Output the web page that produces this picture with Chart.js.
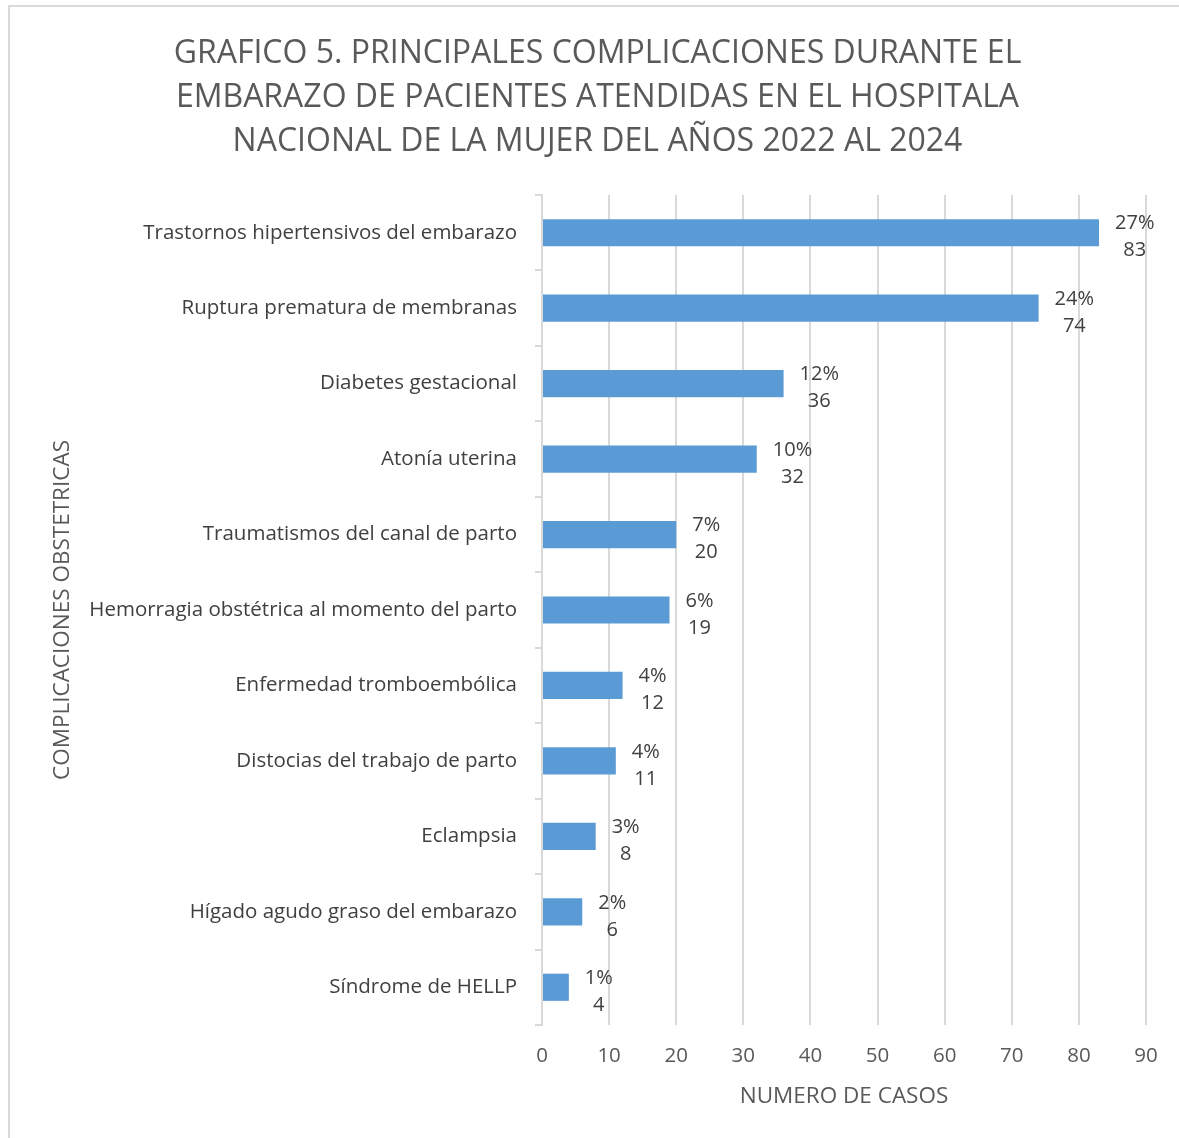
<!DOCTYPE html>
<html>
<head>
<meta charset="utf-8">
<script src="https://cdn.jsdelivr.net/npm/chart.js@4.4.1/dist/chart.umd.min.js"></script>
<style>
  html, body { margin: 0; padding: 0; background: #ffffff; }
  #wrap { position: relative; width: 1179px; height: 1138px; overflow: hidden; }
  #frame { position: absolute; left: 8px; top: 5px; width: 1200px; height: 1200px;
           border-left: 2px solid #d9d9d9; border-top: 2px solid #d9d9d9; box-sizing: border-box; }
  canvas { position: absolute; left: 0; top: 0; }
</style>
</head>
<body>
<div id="wrap">
  <div id="frame"></div>
  <canvas id="chart" width="1179" height="1138"></canvas>
</div>
<script>
// Complicaciones obstétricas: número de casos y porcentaje
const categorias = [
  'Trastornos hipertensivos del embarazo',
  'Ruptura prematura de membranas',
  'Diabetes gestacional',
  'Atonía uterina',
  'Traumatismos del canal de parto',
  'Hemorragia obstétrica al momento del parto',
  'Enfermedad tromboembólica',
  'Distocias del trabajo de parto',
  'Eclampsia',
  'Hígado agudo graso del embarazo',
  'Síndrome de HELLP'
];
const casos = [83, 74, 36, 32, 20, 19, 12, 11, 8, 6, 4];
const porcentajes = ['27%', '24%', '12%', '10%', '7%', '6%', '4%', '4%', '3%', '2%', '1%'];
const tituloLineas = [
  'GRAFICO 5. PRINCIPALES COMPLICACIONES DURANTE EL',
  'EMBARAZO DE PACIENTES ATENDIDAS EN EL HOSPITALA',
  'NACIONAL DE LA MUJER DEL AÑOS 2022 AL 2024'
];

const FONT = "'Open Sans', 'DejaVu Sans', sans-serif";

// Two-line label (percentage over count) to the right of each bar
const etiquetas = {
  id: 'etiquetas',
  afterDatasetsDraw(chart) {
    const ctx = chart.ctx;
    const meta = chart.getDatasetMeta(0);
    ctx.save();
    ctx.font = '20px ' + FONT;
    ctx.fillStyle = '#404040';
    ctx.textAlign = 'center';
    ctx.textBaseline = 'middle';
    meta.data.forEach((bar, i) => {
      const l1 = porcentajes[i];
      const l2 = String(casos[i]);
      const w = Math.max(ctx.measureText(l1).width, ctx.measureText(l2).width);
      const cx = bar.x + 16 + w / 2;
      ctx.fillText(l1, cx, bar.y - 9);
      ctx.fillText(l2, cx, bar.y + 18);
    });
    ctx.restore();
  }
};

new Chart(document.getElementById('chart'), {
  type: 'bar',
  data: {
    labels: categorias,
    datasets: [{
      data: casos,
      backgroundColor: '#5b9bd5',
      borderWidth: 0,
      categoryPercentage: 1,
      barPercentage: 0.36
    }]
  },
  options: {
    indexAxis: 'y',
    responsive: false,
    animation: false,
    devicePixelRatio: 1,
    layout: { padding: { top: 32, right: 33, bottom: 28, left: 49 } },
    plugins: {
      legend: { display: false },
      tooltip: { enabled: false },
      title: {
        display: true,
        text: tituloLineas,
        color: '#595959',
        font: { family: FONT, size: 32, weight: 'normal', lineHeight: 1.375 },
        padding: { top: 0, bottom: 31 }
      }
    },
    scales: {
      x: {
        min: 0,
        max: 90,
        ticks: {
          stepSize: 10,
          color: '#595959',
          font: { family: FONT, size: 20.5 },
          padding: 19
        },
        grid: { color: '#d9d9d9', lineWidth: 2, drawTicks: false },
        border: { display: false },
        title: {
          display: true,
          text: 'NUMERO DE CASOS',
          color: '#595959',
          font: { family: FONT, size: 22.5 },
          padding: { top: 14, bottom: 0 }
        },
        afterFit(scale) { scale.height = 85; }
      },
      y: {
        ticks: {
          color: '#404040',
          font: { family: FONT, size: 20.5 },
          padding: 18,
          autoSkip: false
        },
        grid: {
          offset: true,
          drawOnChartArea: false,
          tickLength: 7,
          color: '#d9d9d9',
          lineWidth: 2
        },
        border: { display: true, color: '#d9d9d9', width: 2 },
        title: {
          display: true,
          text: 'COMPLICACIONES OBSTETRICAS',
          color: '#595959',
          font: { family: FONT, size: 22.5 },
          padding: { top: 0, bottom: 0 }
        },
        afterFit(scale) { scale.width = 493; }
      }
    }
  },
  plugins: [etiquetas]
});
</script>
</body>
</html>
